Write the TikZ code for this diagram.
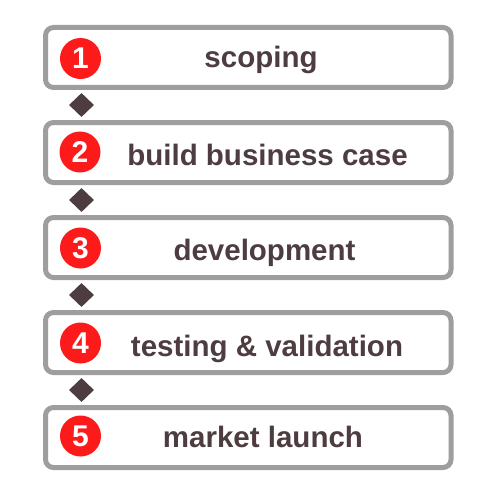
\documentclass[tikz,border=0pt]{standalone}
\usepackage{fontspec}
\setmainfont{Liberation Sans}
\usetikzlibrary{shapes.geometric}
\definecolor{boxgray}{RGB}{158,158,158}
\definecolor{stepred}{RGB}{252,26,26}
\definecolor{labelbrown}{RGB}{77,60,64}
\tikzset{
  stagebox/.style={draw=boxgray,line width=5pt,rounded corners=8pt,fill=white,
    minimum width=405.5pt,minimum height=60pt,inner sep=0pt},
  numdot/.style={circle,fill=stepred,minimum size=41pt,inner sep=0pt,text=white,
    font=\bfseries\fontsize{30}{30}\selectfont},
  stagetext/.style={anchor=base,inner sep=0pt,text=labelbrown,
    font=\bfseries\fontsize{29.5}{30}\selectfont},
  sep/.style={diamond,fill=labelbrown,minimum width=25pt,minimum height=24pt,inner sep=0pt}
}
\begin{document}
\begin{tikzpicture}[x=1pt,y=1pt,yscale=-1,xscale=1]
\useasboundingbox (0,0) rectangle (500,500);

% Boxes
\node [stagebox] (box1) at (248.25,57.5) {};
\node [stagebox] (box2) at (248.25,152.5) {};
\node [stagebox] (box3) at (248.25,247.5) {};
\node [stagebox] (box4) at (248.25,342.5) {};
\node [stagebox] (box5) at (248.25,437.5) {};

% Diamonds between boxes
\node [sep] (sep1) at (81.5,105) {};
\node [sep] (sep2) at (81.5,200) {};
\node [sep] (sep3) at (81.5,295) {};
\node [sep] (sep4) at (81.5,390) {};

% Number circles
\node [numdot] (num1) at (80.5,58.5) {1};
\node [numdot] (num2) at (80,152) {2};
\node [numdot] (num3) at (80.5,248) {3};
\node [numdot] (num4) at (80.5,343) {4};
\node [numdot] (num5) at (80.5,436) {5};

% Text Node
\node [stagetext] (lab1) at (261,67.5) {scoping};
% Text Node
\node [stagetext] (lab2) at (267.5,165) {build business case};
% Text Node
\node [stagetext] (lab3) at (264.5,260) {development};
% Text Node
\node [stagetext] (lab4) at (267,356) {testing \& validation};
% Text Node
\node [stagetext] (lab5) at (263,447) {market launch};

\end{tikzpicture}
\end{document}
